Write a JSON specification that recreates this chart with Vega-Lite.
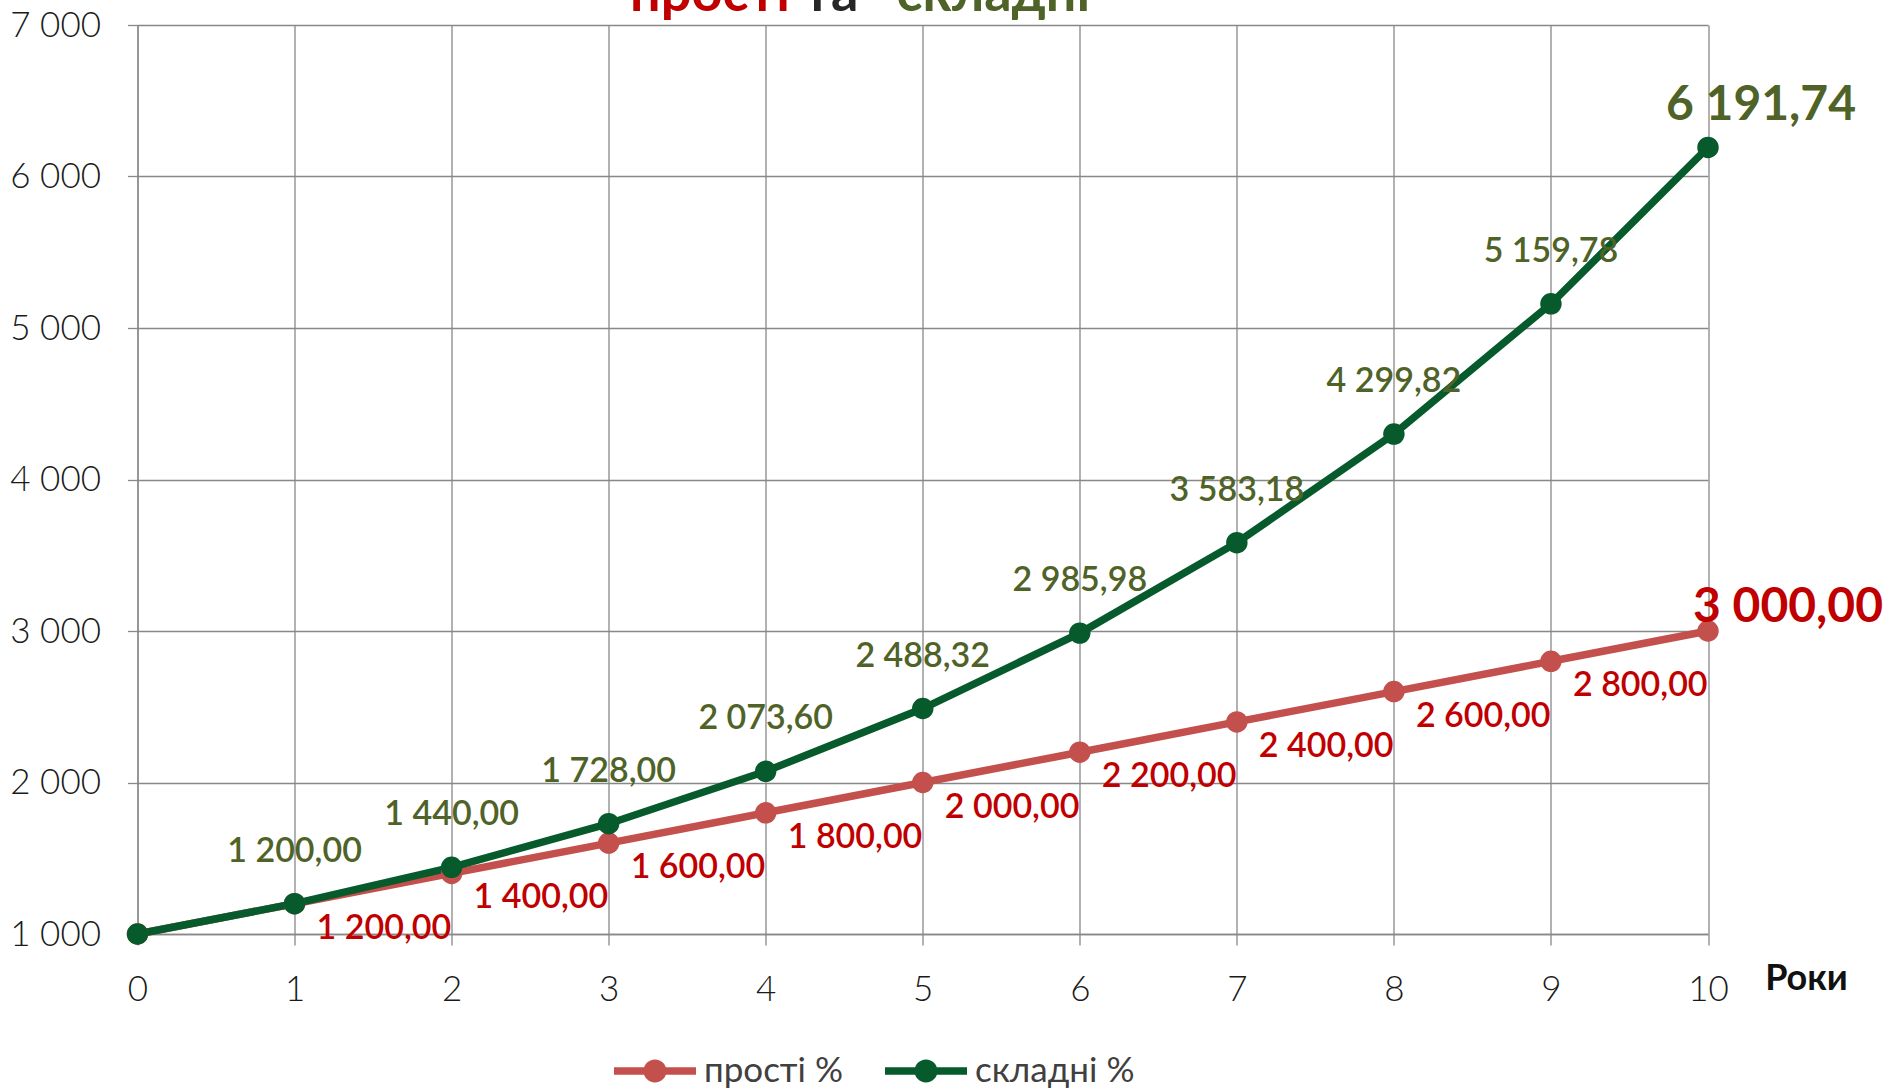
{
  "$schema": "https://vega.github.io/schema/vega-lite/v6.json",
  "width": 1570.5,
  "height": 909,
  "autosize": {"type": "none"},
  "padding": {"left": 137.5, "top": 25, "right": 185, "bottom": 157},
  "background": "white",
  "config": {
    "locale": {"number": {"decimal": ",", "thousands": " ", "grouping": [3], "currency": ["", ""]}},
    "view": {"stroke": null},
    "font": "Lato"
  },
  "datasets": {
    "series": [
      {"year": 0, "series": "прості %", "value": 1000},
      {"year": 1, "series": "прості %", "value": 1200},
      {"year": 2, "series": "прості %", "value": 1400},
      {"year": 3, "series": "прості %", "value": 1600},
      {"year": 4, "series": "прості %", "value": 1800},
      {"year": 5, "series": "прості %", "value": 2000},
      {"year": 6, "series": "прості %", "value": 2200},
      {"year": 7, "series": "прості %", "value": 2400},
      {"year": 8, "series": "прості %", "value": 2600},
      {"year": 9, "series": "прості %", "value": 2800},
      {"year": 10, "series": "прості %", "value": 3000},
      {"year": 0, "series": "складні %", "value": 1000},
      {"year": 1, "series": "складні %", "value": 1200},
      {"year": 2, "series": "складні %", "value": 1440},
      {"year": 3, "series": "складні %", "value": 1728},
      {"year": 4, "series": "складні %", "value": 2073.6},
      {"year": 5, "series": "складні %", "value": 2488.32},
      {"year": 6, "series": "складні %", "value": 2985.98},
      {"year": 7, "series": "складні %", "value": 3583.18},
      {"year": 8, "series": "складні %", "value": 4299.82},
      {"year": 9, "series": "складні %", "value": 5159.78},
      {"year": 10, "series": "складні %", "value": 6191.74}
    ]
  },
  "data": {"name": "series"},
  "layer": [
    {
      "mark": {"type": "line", "strokeWidth": 7.5},
      "encoding": {
        "x": {
          "field": "year", "type": "quantitative",
          "scale": {"domain": [0, 10], "nice": false, "zero": false},
          "axis": {
            "values": [0, 1, 2, 3, 4, 5, 6, 7, 8, 9, 10],
            "format": "d",
            "title": "Роки",
            "titleX": 1668.5, "titleY": 44, "titleAlign": "center", "titleBaseline": "middle", "titleAngle": 0,
            "titleFont": "Lato", "titleFontSize": 36, "titleFontWeight": "bold", "titleColor": "#111111",
            "grid": true, "gridColor": "#888888", "gridWidth": 1.3,
            "domainColor": "#888888", "domainWidth": 1.3,
            "tickColor": "#888888", "tickWidth": 1.3, "tickSize": 11,
            "labelFont": "Lato", "labelFontSize": 35, "labelFontWeight": 300, "labelColor": "#1a1a1a",
            "labelBaseline": "middle", "labelPadding": 44, "labelFlush": false
          }
        },
        "y": {
          "field": "value", "type": "quantitative",
          "scale": {"domain": [1000, 7000], "nice": false, "zero": false},
          "axis": {
            "values": [1000, 2000, 3000, 4000, 5000, 6000, 7000],
            "format": ",d",
            "title": null,
            "grid": true, "gridColor": "#888888", "gridWidth": 1.3,
            "domainColor": "#888888", "domainWidth": 1.3,
            "tickColor": "#888888", "tickWidth": 1.3, "tickSize": 10,
            "labelFont": "Lato", "labelFontSize": 35, "labelFontWeight": 300, "labelColor": "#1a1a1a",
            "labelAlign": "right", "labelBaseline": "middle", "labelPadding": 27, "labelFlush": false
          }
        },
        "color": {
          "field": "series", "type": "nominal",
          "scale": {"domain": ["прості %", "складні %"], "range": ["#C4504D", "#065A2C"]},
          "legend": {
            "title": null,
            "orient": "none", "direction": "horizontal",
            "legendX": 476.5, "legendY": 1005,
            "symbolType": "M-1,-0.09 L1,-0.09 L1,0.09 L-1,0.09 Z M0.28,0 A0.28,0.28 0 1,1 -0.28,0 A0.28,0.28 0 1,1 0.28,0 Z",
            "symbolSize": 6724, "symbolStrokeWidth": 0,
            "labelFont": "Lato", "labelFontSize": 35, "labelColor": "#404040", "labelOffset": 8,
            "columnPadding": 42, "padding": 0,
            "encode": {"symbols": {"update": {"fill": {"scale": "color", "field": "value"}, "stroke": {"value": "transparent"}, "opacity": {"value": 1}, "fillOpacity": {"value": 1}}}}
          }
        }
      }
    },
    {
      "mark": {"type": "point", "filled": true, "size": 460, "opacity": 1},
      "encoding": {
        "x": {"field": "year", "type": "quantitative"},
        "y": {"field": "value", "type": "quantitative"},
        "color": {"field": "series", "type": "nominal"}
      }
    },
    {
      "transform": [{"filter": "datum.series == 'складні %' && datum.year >= 1 && datum.year <= 9"}],
      "mark": {"type": "text", "align": "center", "baseline": "middle", "dy": -52, "font": "Lato", "fontSize": 34, "fontWeight": 600, "color": "#4F6228"},
      "encoding": {
        "x": {"field": "year", "type": "quantitative"},
        "y": {"field": "value", "type": "quantitative"},
        "text": {"field": "value", "type": "quantitative", "format": ",.2f"}
      }
    },
    {
      "transform": [{"filter": "datum.series == 'прості %' && datum.year >= 1 && datum.year <= 9"}],
      "mark": {"type": "text", "align": "left", "baseline": "middle", "dx": 22, "dy": 25, "font": "Lato", "fontSize": 34, "fontWeight": 600, "color": "#C00000"},
      "encoding": {
        "x": {"field": "year", "type": "quantitative"},
        "y": {"field": "value", "type": "quantitative"},
        "text": {"field": "value", "type": "quantitative", "format": ",.2f"}
      }
    },
    {
      "transform": [{"filter": "datum.series == 'складні %' && datum.year == 10"}],
      "mark": {"type": "text", "align": "center", "baseline": "middle", "dx": 53, "dy": -41, "font": "Lato", "fontSize": 48, "fontWeight": "bold", "color": "#4F6228"},
      "encoding": {
        "x": {"field": "year", "type": "quantitative"},
        "y": {"field": "value", "type": "quantitative"},
        "text": {"field": "value", "type": "quantitative", "format": ",.2f"}
      }
    },
    {
      "transform": [{"filter": "datum.series == 'прості %' && datum.year == 10"}],
      "mark": {"type": "text", "align": "center", "baseline": "middle", "dx": 80, "dy": -23, "font": "Lato", "fontSize": 48, "fontWeight": "bold", "color": "#C00000"},
      "encoding": {
        "x": {"field": "year", "type": "quantitative"},
        "y": {"field": "value", "type": "quantitative"},
        "text": {"field": "value", "type": "quantitative", "format": ",.2f"}
      }
    },
    {
      "data": {"values": [{}]},
      "mark": {"type": "text", "text": "прості", "align": "center", "baseline": "alphabetic", "font": "Lato", "fontSize": 54, "fontWeight": "bold", "color": "#C00000"},
      "encoding": {"x": {"datum": 3.645, "type": "quantitative"}, "y": {"datum": 7095, "type": "quantitative"}}
    },
    {
      "data": {"values": [{}]},
      "mark": {"type": "text", "text": "та", "align": "center", "baseline": "alphabetic", "font": "Lato", "fontSize": 54, "fontWeight": "bold", "color": "#262626"},
      "encoding": {"x": {"datum": 4.416, "type": "quantitative"}, "y": {"datum": 7095, "type": "quantitative"}}
    },
    {
      "data": {"values": [{}]},
      "mark": {"type": "text", "text": "складні", "align": "center", "baseline": "alphabetic", "font": "Lato", "fontSize": 54, "fontWeight": "bold", "color": "#4F6228"},
      "encoding": {"x": {"datum": 5.45, "type": "quantitative"}, "y": {"datum": 7095, "type": "quantitative"}}
    }
  ]
}
